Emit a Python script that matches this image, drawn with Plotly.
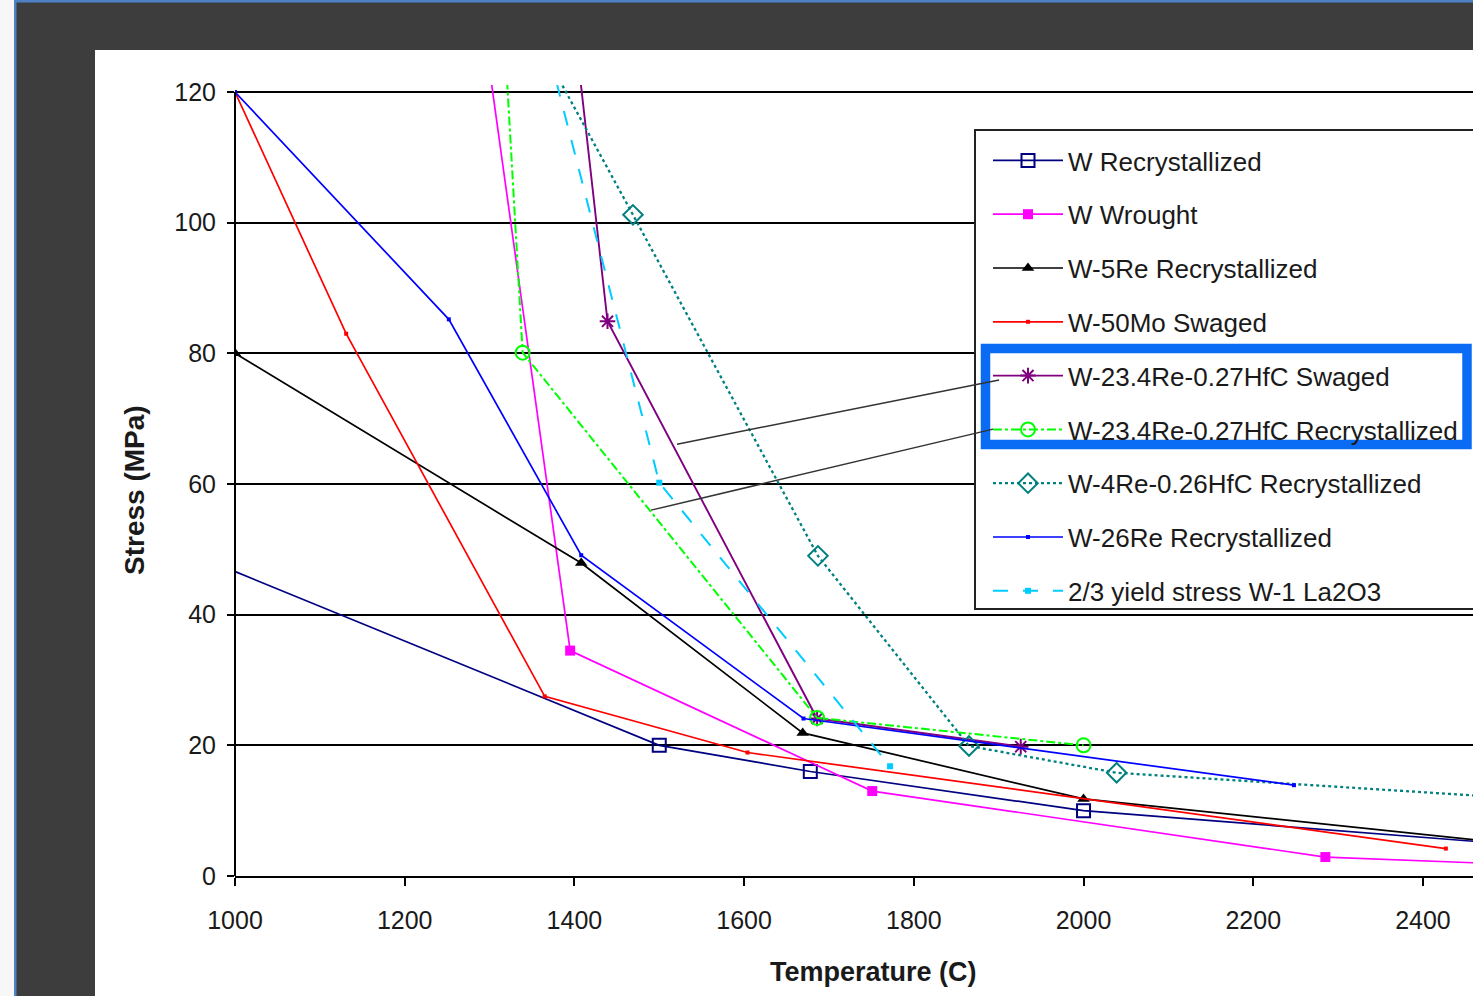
import plotly.graph_objects as go

# ---------------- data ----------------
w_rx_T = [985, 1500, 1678, 2000, 2500]
w_rx_S = [47.4, 20.0, 16.0, 10.0, 4.9]

w_wr_T = [1293, 1395, 1751, 2285, 2465]
w_wr_S = [130.0, 34.5, 13.0, 2.9, 2.0]

w5re_T = [1000, 1408, 1669, 2000, 2500]
w5re_S = [80.0, 47.9, 21.9, 11.8, 5.0]

w50mo_T = [1000, 1131, 1365, 1604, 2427]
w50mo_S = [120.0, 83.0, 27.5, 18.9, 4.2]

hfc_sw_T = [1400, 1439, 1686, 1926]
hfc_sw_S = [130.0, 84.9, 24.1, 19.8]

hfc_rx_T = [1317, 1339, 1686, 2000]
hfc_rx_S = [130.0, 80.1, 24.2, 20.0]

w4re_T = [1369, 1469, 1687, 1865, 2039, 2500]
w4re_S = [125.0, 101.2, 49.0, 19.9, 15.8, 12.0]

w26re_T = [1000, 1252, 1408, 1670, 2248]
w26re_S = [120.0, 85.2, 49.1, 24.1, 13.9]

la_T = [1370, 1500, 1772]
la_S = [126.0, 60.2, 16.8]

names = [
    "W Recrystallized",
    "W Wrought",
    "W-5Re Recrystallized",
    "W-50Mo Swaged",
    "W-23.4Re-0.27HfC Swaged",
    "W-23.4Re-0.27HfC Recrystallized",
    "W-4Re-0.26HfC Recrystallized",
    "W-26Re Recrystallized",
    "2/3 yield stress W-1 La2O3",
]

x_ticks = [1000, 1200, 1400, 1600, 1800, 2000, 2200, 2400]
y_ticks = [0, 20, 40, 60, 80, 100, 120]

x_title = "Temperature (C)"
y_title = "Stress (MPa)"

# ---------------- figure ----------------
FONT = "Liberation Sans, Arial, sans-serif"
TXT = "#1a1a1a"

series = [
    (w_rx_T, w_rx_S, "#000080", "solid", 1.7, dict(symbol="square-open", size=13, color="#000080", line=dict(width=2, color="#000080"))),
    (w_wr_T, w_wr_S, "#FF00FF", "solid", 1.7, dict(symbol="square", size=10, color="#FF00FF")),
    (w5re_T, w5re_S, "#000000", "solid", 1.7, dict(symbol="triangle-up", size=11, color="#000000")),
    (w50mo_T, w50mo_S, "#FF0000", "solid", 1.7, dict(symbol="square", size=4, color="#FF0000")),
    (hfc_sw_T, hfc_sw_S, "#800080", "solid", 1.9, dict(symbol="asterisk-open", size=13, color="#800080", line=dict(width=2, color="#800080"))),
    (hfc_rx_T, hfc_rx_S, "#00FF00", "dashdot", 2.0, dict(symbol="circle-open", size=14, color="#00FF00", line=dict(width=2, color="#00FF00"))),
    (w4re_T, w4re_S, "#008080", "dot", 2.3, dict(symbol="diamond-open", size=15, color="#008080", line=dict(width=2, color="#008080"))),
    (w26re_T, w26re_S, "#0000FF", "solid", 1.7, dict(symbol="square", size=4, color="#0000FF")),
    (la_T, la_S, "#00CCFF", "longdash", 2.0, dict(symbol="square", size=6, color="#00CCFF")),
]

fig = go.Figure()
for i, (xs, ys, col, dash, w, mk) in enumerate(series):
    fig.add_trace(go.Scatter(
        x=xs, y=ys, name=names[i], mode="lines+markers",
        line=dict(color=col, dash=dash, width=w),
        marker=mk, legendgroup=f"g{i}", cliponaxis=True,
    ))

L, T, B = 235, 85, 120
W, H = 1473, 996
PW, PH = W - L, H - T - B


def px(xp):
    return (xp - L) / PW


def py(yp):
    return (H - B - yp) / PH


shapes = [
    # window frame / page
    dict(type="rect", xref="paper", yref="paper", x0=-0.25, x1=px(14), y0=-0.3, y1=1.3,
         fillcolor="#f7f7f7", line=dict(width=0), layer="below"),
    dict(type="rect", xref="paper", yref="paper", x0=px(14), x1=px(16.5), y0=-0.3, y1=1.3,
         fillcolor="#4f81c7", line=dict(width=0), layer="below"),
    dict(type="rect", xref="paper", yref="paper", x0=px(14), x1=1.1, y0=py(2.5), y1=1.3,
         fillcolor="#4f81c7", line=dict(width=0), layer="below"),
    dict(type="rect", xref="paper", yref="paper", x0=px(95), x1=1.1, y0=-0.3, y1=py(50),
         fillcolor="white", line=dict(width=0), layer="below"),
    # y axis line 0..120
    dict(type="line", xref="paper", yref="y", x0=0, x1=0, y0=0, y1=120,
         line=dict(color="black", width=2), layer="above"),
    # legend box background
    dict(type="rect", xref="paper", yref="paper", x0=px(975), x1=1.1, y0=py(609), y1=py(130),
         fillcolor="white", line=dict(color="#222222", width=2), layer="above"),
    # highlight box
    dict(type="rect", xref="paper", yref="paper", x0=px(985.5), x1=px(1467), y0=py(444.5), y1=py(348.5),
         line=dict(color="#0a6cf5", width=9.5), layer="above"),
    # pointer lines
    dict(type="line", xref="x", yref="y", x0=1900.5, y0=75.9, x1=1520.9, y1=66.1,
         line=dict(color="#333333", width=1.5), layer="above"),
    dict(type="line", xref="x", yref="y", x0=1893.4, y0=68.4, x1=1490.3, y1=56.0,
         line=dict(color="#333333", width=1.5), layer="above"),
]

annotations = [
    dict(text=x_title, xref="paper", yref="paper", x=px(873), y=py(972),
         xanchor="center", yanchor="middle", showarrow=False,
         font=dict(family=FONT, size=27, color=TXT, weight="bold")),
    dict(text=y_title, xref="paper", yref="paper", x=px(134), y=py(490),
         xanchor="center", yanchor="middle", showarrow=False, textangle=-90,
         font=dict(family=FONT, size=28, color=TXT, weight="bold")),
]

fig.update_layout(
    width=W, height=H, autosize=False,
    margin=dict(l=L, r=0, t=T, b=B, pad=0),
    paper_bgcolor="#3d3d3d", plot_bgcolor="white",
    font=dict(family=FONT, size=24, color=TXT),
    shapes=shapes,
    annotations=annotations,
    showlegend=True,
    legend=dict(
        x=px(988), y=py(137), xanchor="left", yanchor="top",
        bgcolor="rgba(0,0,0,0)", borderwidth=0,
        font=dict(family=FONT, size=26, color=TXT),
        traceorder="grouped", tracegroupgap=17, itemwidth=70,
    ),
    xaxis=dict(
        range=[1000, 2459], tickvals=x_ticks, ticktext=[str(v) for v in x_ticks],
        ticks="outside", ticklen=8, tickwidth=2, tickcolor="black",
        showline=True, linecolor="black", linewidth=2, mirror=False,
        showgrid=False, zeroline=False,
        tickfont=dict(family=FONT, size=25, color=TXT), ticklabelstandoff=13,
    ),
    yaxis=dict(
        range=[0, 121.07], tickvals=y_ticks, ticktext=[str(v) for v in y_ticks],
        ticks="outside", ticklen=7, tickwidth=2, tickcolor="black",
        showline=False, showgrid=True, gridcolor="black", gridwidth=2,
        zeroline=False,
        tickfont=dict(family=FONT, size=25, color=TXT), ticklabelstandoff=6,
    ),
)

fig.write_html("out.html")
